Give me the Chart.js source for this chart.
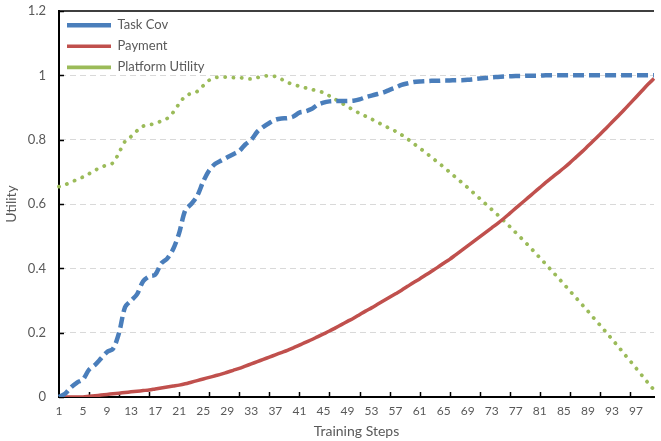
<!DOCTYPE html>
<html>
<head>
<meta charset="utf-8">
<script src="https://cdn.jsdelivr.net/npm/chart.js@4.4.1/dist/chart.umd.min.js"></script>
<style>
  html, body { margin: 0; padding: 0; background: #fff; }
  #wrap { width: 661px; height: 441px; position: relative; }
</style>
</head>
<body>
<div id="wrap"><canvas id="chart"></canvas></div>
<script>
// training steps 1..100
const stepLabels = [];
for (let s = 1; s <= 100; s++) stepLabels.push(String(s));

const taskCov = [
  0, 0.01, 0.03, 0.045, 0.055, 0.085, 0.1, 0.12, 0.14, 0.15,
  0.2, 0.28, 0.3, 0.32, 0.36, 0.375, 0.38, 0.415, 0.43, 0.46,
  0.51, 0.58, 0.6, 0.625, 0.67, 0.705, 0.725, 0.735, 0.745, 0.755,
  0.765, 0.785, 0.8, 0.825, 0.84, 0.852, 0.862, 0.866, 0.867, 0.872,
  0.884, 0.888, 0.895, 0.908, 0.915, 0.919, 0.92, 0.92, 0.92, 0.921,
  0.925, 0.932, 0.937, 0.942, 0.947, 0.955, 0.962, 0.97, 0.975, 0.979,
  0.981, 0.982, 0.983, 0.983, 0.984, 0.984, 0.985, 0.985, 0.986, 0.988,
  0.99, 0.992, 0.994, 0.995, 0.996, 0.997, 0.998, 0.998, 0.999, 0.999,
  0.999, 1, 1, 1, 1, 1, 1, 1, 1, 1,
  1, 1, 1, 1, 1, 1, 1, 1, 1, 1
];

const payment = [
  0, 0, 0, 0, 0, 0.002, 0.004, 0.006, 0.008, 0.01,
  0.012, 0.014, 0.016, 0.018, 0.02, 0.022, 0.025, 0.028, 0.031, 0.034,
  0.037, 0.041, 0.046, 0.051, 0.056, 0.061, 0.066, 0.071, 0.077, 0.083,
  0.089, 0.096, 0.103, 0.11, 0.117, 0.124, 0.131, 0.138, 0.145, 0.153,
  0.161, 0.17, 0.178, 0.187, 0.196, 0.205, 0.215, 0.225, 0.235, 0.245,
  0.256, 0.267, 0.277, 0.288, 0.299, 0.31, 0.321, 0.332, 0.344, 0.356,
  0.367, 0.379, 0.391, 0.403, 0.416, 0.428, 0.442, 0.456, 0.47, 0.484,
  0.498, 0.512, 0.526, 0.54, 0.555, 0.571, 0.587, 0.603, 0.619, 0.635,
  0.651, 0.667, 0.682, 0.697, 0.712, 0.728, 0.745, 0.762, 0.78, 0.798,
  0.816, 0.835, 0.854, 0.873, 0.892, 0.912, 0.932, 0.952, 0.972, 0.99
];

const platformUtility = [
  0.654, 0.66, 0.668, 0.676, 0.684, 0.694, 0.705, 0.714, 0.722, 0.728,
  0.76, 0.795, 0.81, 0.828, 0.842, 0.846, 0.85, 0.858, 0.866, 0.885,
  0.912, 0.935, 0.944, 0.95, 0.968, 0.985, 0.993, 0.995, 0.994, 0.993,
  0.993, 0.99, 0.989, 0.993, 0.997, 0.999, 0.996, 0.988, 0.978, 0.972,
  0.966, 0.961, 0.956, 0.952, 0.946, 0.936, 0.925, 0.914, 0.903, 0.892,
  0.882, 0.873, 0.864, 0.854, 0.845, 0.835, 0.826, 0.815, 0.802, 0.788,
  0.774, 0.76, 0.745, 0.73, 0.715, 0.699, 0.683, 0.667, 0.651, 0.634,
  0.617, 0.6, 0.583, 0.566, 0.548, 0.53, 0.511, 0.492, 0.473, 0.453,
  0.433, 0.413, 0.392, 0.372, 0.351, 0.33, 0.309, 0.288, 0.267, 0.245,
  0.224, 0.202, 0.18, 0.158, 0.135, 0.113, 0.09, 0.067, 0.044, 0.022
];

const yTicks = [0, 0.2, 0.4, 0.6, 0.8, 1, 1.2];

const textColor = "#595959";
const fontFamily = "Lato, 'Noto Sans', sans-serif";

// top frame line and the short inward tick marks (every 5 steps on x)
const frameTicks = {
  id: "frameTicks",
  beforeDatasetsDraw(chart) {
    const { ctx, chartArea, scales } = chart;
    ctx.save();
    ctx.strokeStyle = "#000";
    ctx.lineWidth = 1.5;
    ctx.beginPath();
    ctx.moveTo(chartArea.left, chartArea.top);
    ctx.lineTo(chartArea.right, chartArea.top);
    for (let i = 5; i < stepLabels.length; i += 5) {
      const px = Math.round(scales.x.getPixelForValue(i)) + 0.5;
      ctx.moveTo(px, chartArea.bottom);
      ctx.lineTo(px, chartArea.bottom - 5);
    }
    yTicks.forEach(v => {
      const py = Math.round(scales.y.getPixelForValue(v)) + 0.5;
      ctx.moveTo(chartArea.left, py);
      ctx.lineTo(chartArea.left + 5, py);
    });
    ctx.stroke();
    ctx.restore();
  }
};

let ctx = document.getElementById("chart");
var myChart = new Chart(ctx, {
  type: "line",
  data: {
    labels: stepLabels,
    datasets: [
      {
        label: "Task Cov",
        data: taskCov,
        borderColor: "#4a7ebb",
        backgroundColor: "#4a7ebb",
        borderWidth: 4.5,
        borderDash: [11, 5],
        pointRadius: 0,
        tension: 0.3
      },
      {
        label: "Payment",
        data: payment,
        borderColor: "#c0504d",
        backgroundColor: "#c0504d",
        borderWidth: 3.5,
        pointRadius: 0,
        tension: 0.3
      },
      {
        label: "Platform Utility",
        data: platformUtility,
        borderColor: "#9bbb59",
        backgroundColor: "#9bbb59",
        borderWidth: 3.8,
        borderDash: [0.1, 8.2],
        borderCapStyle: "round",
        pointRadius: 0,
        tension: 0.3
      }
    ]
  },
  options: {
    responsive: true,
    maintainAspectRatio: false,
    animation: false,
    layout: { padding: { top: 11, right: 1, left: 0, bottom: 0 } },
    plugins: {
      tooltip: { enabled: false },
      legend: {
        position: "chartArea",
        align: "start",
        // blank title only pushes the entries down a little
        title: { display: true, text: " ", padding: 0, font: { size: 9 } },
        labels: {
          usePointStyle: true,
          pointStyle: "line",
          pointStyleWidth: 44,
          boxWidth: 42,
          boxHeight: 13,
          padding: 8,
          color: textColor,
          font: { family: fontFamily, size: 13 }
        }
      }
    },
    scales: {
      x: {
        type: "category",
        offset: false,
        afterFit: scale => { scale.height = 44; },
        grid: { display: false, drawTicks: false },
        border: { color: "#000", width: 2 },
        ticks: {
          autoSkip: false,
          maxRotation: 0,
          padding: 7,
          color: textColor,
          font: { family: fontFamily, size: 12 },
          callback: (val, i) => (i % 4 === 0 ? stepLabels[i] : "")
        },
        title: {
          display: true,
          text: "Training Steps",
          color: textColor,
          padding: { top: 0, bottom: 1 },
          font: { family: fontFamily, size: 14 }
        }
      },
      y: {
        min: 0,
        max: 1.2,
        afterFit: scale => { scale.width = 59; scale.paddingTop = 0; scale.paddingBottom = 0; },
        grid: {
          drawTicks: false,
          color: c => (c.tick.value > 0.01 && c.tick.value < 1.19 ? "#d9d9d9" : "rgba(0,0,0,0)"),
          lineWidth: 1
        },
        border: { color: "#000", width: 2, dash: [6, 4] },
        ticks: {
          stepSize: 0.2,
          padding: 13,
          color: textColor,
          font: { family: fontFamily, size: 13 },
          callback: v => String(+v.toFixed(1))
        },
        title: {
          display: true,
          text: "Utility",
          color: textColor,
          padding: { top: 3, bottom: 0 },
          font: { family: fontFamily, size: 14 }
        }
      }
    }
  },
  plugins: [frameTicks]
});
</script>
</body>
</html>
